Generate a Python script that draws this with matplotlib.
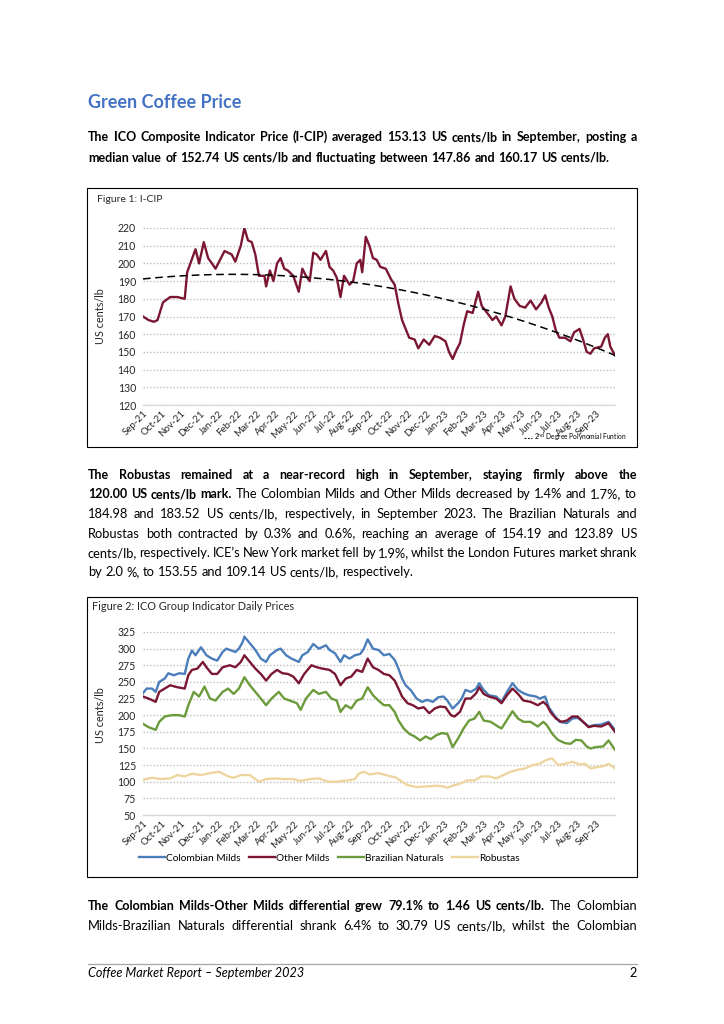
"""
Coffee Market Report page 2 - Green Coffee Price
Recreates the page with the I-CIP chart and the ICO group indicator chart
"""

import numpy as np
import matplotlib
matplotlib.use('Agg')
import matplotlib.pyplot as plt
from matplotlib.patches import Rectangle
from matplotlib.lines import Line2D

W, H = 724, 1024
FONT = 'Lato'
plt.rcParams['font.family'] = [FONT, 'DejaVu Sans']

# month labels (one per month start, x is counted in months from 1 Sep 2021)
months = ['Sep-21', 'Oct-21', 'Nov-21', 'Dec-21', 'Jan-22', 'Feb-22', 'Mar-22', 'Apr-22',
          'May-22', 'Jun-22', 'Jul-22', 'Aug-22', 'Sep-22', 'Oct-22', 'Nov-22', 'Dec-22',
          'Jan-23', 'Feb-23', 'Mar-23', 'Apr-23', 'May-23', 'Jun-23', 'Jul-23', 'Aug-23', 'Sep-23']

# Figure 1: I-CIP (US cents/lb)
icip_x = [0.00, 0.29, 0.58, 0.77, 1.06, 1.44, 1.82, 2.21, 2.34, 2.78, 2.97, 3.22, 3.45, 3.65, 3.84,
          4.32, 4.70, 4.89, 5.18, 5.37, 5.56, 5.76, 5.95, 6.14, 6.43, 6.52, 6.72, 6.91, 7.10, 7.29,
          7.48, 7.67, 7.96, 8.25, 8.44, 8.63, 8.83, 9.02, 9.21, 9.40, 9.69, 9.88, 10.07, 10.26, 10.46,
          10.65, 10.94, 11.13, 11.32, 11.51, 11.61, 11.80, 11.99, 12.18, 12.38, 12.57, 12.86, 13.14,
          13.33, 13.53, 13.72, 13.91, 14.10, 14.39, 14.58, 14.87, 15.16, 15.45, 15.73, 16.02, 16.21,
          16.40, 16.60, 16.79, 16.98, 17.17, 17.46, 17.75, 17.94, 18.23, 18.51, 18.71, 18.99, 19.19,
          19.47, 19.67, 19.95, 20.24, 20.53, 20.82, 21.11, 21.30, 21.49, 21.68, 21.87, 22.06, 22.35,
          22.64, 22.83, 23.12, 23.31, 23.50, 23.70, 23.89, 24.27, 24.46, 24.62, 24.75, 25.00]
icip = [170, 168, 167, 168, 178, 181, 181, 180, 195, 208, 200, 212, 203, 200, 197,
        207, 205, 201, 210, 220, 213, 212, 205, 193, 193, 187, 196, 190, 200, 203,
        197, 196, 193, 184, 197, 193, 190, 206, 205, 202, 207, 198, 196, 192, 181,
        193, 188, 190, 200, 202, 195, 215, 210, 203, 202, 198, 197, 191,
        188, 177, 168, 163, 158, 157, 152, 157, 154, 159, 158, 156, 150,
        146, 151, 155, 165, 173, 172, 184, 176, 172, 168, 170, 165, 170,
        187, 180, 176, 175, 179, 174, 178, 182, 175, 170, 162, 158, 158,
        156, 161, 163, 157, 150, 149, 152, 153, 158, 160, 153, 148]

# Figure 2: ICO group indicators (US cents/lb)
colombian_x = [0.00, 0.19, 0.48, 0.67, 0.86, 1.15, 1.34, 1.63, 1.92, 2.21, 2.40, 2.59, 2.78, 3.07,
               3.36, 3.65, 3.93, 4.22, 4.41, 4.70, 4.89, 5.08, 5.28, 5.37, 5.66, 5.95, 6.24, 6.52,
               6.72, 7.10, 7.29, 7.58, 7.87, 8.25, 8.44, 8.73, 9.02, 9.31, 9.69, 9.88, 10.17, 10.46,
               10.65, 10.94, 11.22, 11.51, 11.70, 11.90, 12.18, 12.47, 12.76, 13.05, 13.33, 13.53,
               13.72, 13.91, 14.20, 14.49, 14.77, 15.06, 15.35, 15.64, 15.92, 16.12, 16.40, 16.69,
               16.88, 17.08, 17.36, 17.65, 17.81, 18.04, 18.32, 18.71, 18.99, 19.28, 19.57, 19.86,
               20.15, 20.43, 20.82, 21.01, 21.30, 21.49, 21.78, 22.06, 22.45, 22.74, 23.02, 23.31,
               23.60, 23.89, 24.27, 24.66, 25.00]
colombian = [233, 240, 240, 235, 250, 255, 263, 260, 263, 262, 285, 297, 290, 302,
             290, 285, 282, 295, 300, 297, 295, 300, 310, 318, 308, 298, 285, 280,
             290, 298, 300, 290, 285, 280, 290, 295, 307, 300, 305, 298, 293, 280,
             290, 285, 290, 292, 300, 314, 300, 298, 290, 292, 283, 270,
             255, 245, 237, 225, 220, 223, 220, 227, 228, 222, 210, 218,
             225, 238, 235, 240, 248, 238, 230, 228, 220, 235, 248, 238,
             233, 230, 228, 225, 228, 212, 200, 190, 188, 195, 196, 190,
             183, 185, 186, 190, 178]

other_x = [0.00, 0.38, 0.67, 0.86, 1.15, 1.44, 1.82, 2.21, 2.40, 2.59, 2.88, 3.17, 3.36, 3.65,
           3.93, 4.22, 4.60, 4.89, 5.18, 5.37, 5.66, 5.95, 6.24, 6.52, 6.81, 7.10, 7.39, 7.67,
           7.96, 8.25, 8.54, 8.92, 9.21, 9.50, 9.88, 10.17, 10.46, 10.74, 11.03, 11.32, 11.61,
           11.90, 12.18, 12.47, 12.76, 13.05, 13.33, 13.53, 13.72, 14.01, 14.29, 14.58, 14.87,
           15.16, 15.45, 15.73, 16.02, 16.31, 16.50, 16.79, 17.08, 17.36, 17.65, 17.81, 18.04,
           18.32, 18.71, 18.99, 19.28, 19.57, 19.86, 20.15, 20.53, 20.91, 21.20, 21.39, 21.58,
           21.87, 22.16, 22.45, 22.74, 23.02, 23.31, 23.60, 23.89, 24.27, 24.66, 25.00]
other = [228, 224, 220, 235, 240, 245, 242, 240, 260, 268, 270, 280, 272, 262,
         262, 272, 275, 272, 280, 290, 280, 270, 262, 252, 262, 268, 263, 262,
         258, 248, 262, 275, 272, 270, 268, 262, 245, 255, 258, 268, 265,
         285, 272, 268, 262, 260, 252, 240, 228, 218, 215, 210, 212,
         203, 210, 213, 212, 200, 198, 205, 225, 225, 233, 242, 232,
         228, 225, 218, 230, 240, 232, 222, 220, 215, 220, 215, 205,
         195, 190, 192, 198, 198, 190, 182, 184, 183, 188, 175]

brazil_x = [0.00, 0.29, 0.67, 0.86, 1.15, 1.53, 1.92, 2.21, 2.40, 2.69, 2.97, 3.26, 3.55, 3.84,
            4.22, 4.51, 4.80, 5.08, 5.37, 5.66, 5.95, 6.24, 6.52, 6.81, 7.19, 7.48, 7.77, 8.15,
            8.35, 8.63, 9.02, 9.31, 9.69, 9.98, 10.26, 10.46, 10.74, 11.03, 11.32, 11.61, 11.90,
            12.18, 12.47, 12.76, 13.05, 13.33, 13.53, 13.81, 14.10, 14.39, 14.68, 14.97, 15.25,
            15.54, 15.83, 16.12, 16.40, 16.69, 16.98, 17.27, 17.56, 17.81, 18.04, 18.42, 18.80,
            18.99, 19.28, 19.57, 19.86, 20.15, 20.53, 20.91, 21.20, 21.39, 21.68, 21.97, 22.35,
            22.64, 22.93, 23.22, 23.50, 23.70, 23.98, 24.37, 24.66, 25.00]
brazil = [187, 182, 178, 190, 198, 200, 200, 198, 215, 235, 228, 243, 225, 222,
          235, 240, 232, 240, 257, 245, 235, 225, 215, 225, 235, 225, 222, 218,
          208, 225, 238, 232, 235, 225, 222, 205, 215, 210, 222, 225, 242,
          230, 222, 215, 215, 205, 192, 180, 172, 168, 162, 168, 164,
          170, 173, 172, 152, 165, 180, 192, 195, 205, 192, 190, 183,
          180, 193, 206, 195, 190, 190, 183, 190, 185, 172, 163, 158,
          157, 163, 162, 153, 150, 152, 153, 162, 148]

robusta_x = [0.00, 0.48, 0.96, 1.44, 1.82, 2.21, 2.59, 3.07, 3.55, 4.03, 4.51, 4.80, 5.18, 5.66,
             5.95, 6.14, 6.52, 7.00, 7.48, 7.96, 8.35, 8.83, 9.31, 9.79, 10.26, 10.84, 11.22,
             11.42, 11.70, 11.99, 12.47, 12.86, 13.14, 13.43, 13.72, 14.01, 14.49, 15.06, 15.54,
             15.92, 16.12, 16.40, 16.79, 17.17, 17.56, 17.94, 18.32, 18.71, 19.09, 19.47, 19.86,
             20.24, 20.63, 21.01, 21.39, 21.68, 21.97, 22.35, 22.74, 23.12, 23.41, 23.70, 24.08,
             24.46, 24.66, 25.00]
robusta = [103, 106, 104, 105, 110, 108, 112, 110, 113, 115, 108, 106, 110, 110,
           104, 100, 104, 105, 104, 104, 101, 104, 105, 100, 100, 102, 104,
           112, 115, 111, 113, 110, 108, 106, 100, 95, 92, 93, 94,
           93, 91, 94, 97, 102, 102, 108, 108, 105, 110, 115, 118,
           120, 125, 127, 133, 135, 125, 127, 130, 126, 127, 120, 122,
           124, 127, 120]

group_names = ['Colombian Milds', 'Other Milds', 'Brazilian Naturals', 'Robustas']
group_colors = ['#4A7EBB', '#7B1733', '#6B9B3A', '#EDD5A0']

# page text: lines of (text, weight) runs
par1 = [
    [('The ICO Composite Indicator Price (I-CIP) averaged 153.13 US cents/lb in September, posting a', 'bold')],
    [('median value of 152.74 US cents/lb and fluctuating between 147.86 and 160.17 US cents/lb.', 'bold')],
]
par2 = [
    [('The Robustas remained at a near-record high in September, staying firmly above the', 'bold')],
    [('120.00 US cents/lb mark.', 'bold'),
     ('The Colombian Milds and Other Milds decreased by 1.4% and 1.7%, to', 'normal')],
    [('184.98 and 183.52 US cents/lb, respectively, in September 2023. The Brazilian Naturals and', 'normal')],
    [('Robustas both contracted by 0.3% and 0.6%, reaching an average of 154.19 and 123.89 US', 'normal')],
    [('cents/lb, respectively. ICE\u2019s New York market fell by 1.9%, whilst the London Futures market shrank', 'normal')],
    [('by 2.0 %, to 153.55 and 109.14 US cents/lb, respectively.', 'normal')],
]
par3 = [
    [('The Colombian Milds-Other Milds differential grew 79.1% to 1.46 US cents/lb.', 'bold'),
     ('The Colombian', 'normal')],
    [('Milds-Brazilian Naturals differential shrank 6.4% to 30.79 US cents/lb, whilst the Colombian', 'normal')],
]

SIZES = {'bold': 9.0, 'normal': 9.3}
LEFT, RIGHT = 88, 637


def fx(px):
    return px / W


def fy(py):
    return 1 - py / H


def draw_paragraph(fig, lines, y_base, step, justify_last=False):
    """Draw lines word by word so that they are justified between LEFT and RIGHT"""
    r = fig.canvas.get_renderer()
    for i, segs in enumerate(lines):
        words = [(w, wt) for txt, wt in segs for w in txt.split()]
        widths = []
        for w, wt in words:
            t = fig.text(0, 0, w, fontsize=SIZES[wt], fontweight=wt)
            widths.append(t.get_window_extent(r).width)
            t.remove()
        last = (i == len(lines) - 1) and not justify_last
        if last or len(words) < 2:
            gap = 9.2 * 100 / 72 * 0.26
        else:
            gap = (RIGHT - LEFT - sum(widths)) / (len(words) - 1)
        x = LEFT
        y = y_base + i * step
        for (w, wt), wd in zip(words, widths):
            fig.text(fx(x), fy(y), w, fontsize=SIZES[wt], fontweight=wt, color='black',
                     ha='left', va='baseline')
            x += wd + gap


def style_axes(ax, ylim, yticks):
    ax.set_xlim(0, 25)
    ax.set_ylim(*ylim)
    ax.set_yticks(yticks)
    ax.set_xticks(range(len(months)))
    ax.set_xticklabels(months, rotation=45, ha='right', va='top', rotation_mode='anchor')
    ax.grid(axis='y', linestyle=(0, (1, 1.4)), color='#BFBFBF', linewidth=1.0)
    ax.set_axisbelow(True)
    for side in ['top', 'right', 'left']:
        ax.spines[side].set_visible(False)
    ax.spines['bottom'].set_color('#D9D9D9')
    ax.spines['bottom'].set_linewidth(1.0)
    ax.tick_params(axis='both', length=0, labelcolor='#262626')
    ax.tick_params(axis='x', pad=3, labelsize=7)
    ax.tick_params(axis='y', pad=5, labelsize=7.6)


def main():
    fig = plt.figure(figsize=(W / 100, H / 100), dpi=100)
    fig.patch.set_facecolor('white')

    # title and first paragraph
    fig.text(fx(LEFT), fy(108), 'Green Coffee Price', fontsize=13, fontweight='bold',
             color='#4472C4', ha='left', va='baseline')
    draw_paragraph(fig, par1, 141, 20.5)

    # Figure 1 box and chart
    fig.add_artist(Rectangle((fx(87), fy(447)), (637 - 87) / W, (447 - 188) / H,
                             transform=fig.transFigure, fill=False, edgecolor='black', linewidth=0.8))
    fig.text(fx(97), fy(200), 'Figure 1: I-CIP', fontsize=7.5, ha='left', va='center', color='#262626')
    ax1 = fig.add_axes([fx(143), fy(405), (615 - 143) / W, (405 - 228) / H])
    ax1.plot(icip_x, icip, color='#7B1733', linewidth=1.7)
    coef = np.polyfit(icip_x, icip, 2)
    xs = np.linspace(0, 25, 200)
    ax1.plot(xs, np.polyval(coef, xs), color='black', linestyle=(0, (5, 3)), linewidth=1.1)
    style_axes(ax1, (120, 220), range(120, 221, 10))
    fig.text(fx(100), fy(316), 'US cents/lb', rotation=90, fontsize=7.8, ha='center', va='center',
             color='#262626')
    trend = Line2D([], [], color='black', linestyle=(0, (2, 1.5)), linewidth=0.7)
    fig.legend([trend], [r'2$^{\mathrm{nd}}$ Degree Polynomial Funtion'], loc='center right',
               bbox_to_anchor=(fx(630), fy(438)), frameon=False, fontsize=4.8,
               handlelength=1.2, handletextpad=0.3, borderpad=0)

    # second paragraph
    draw_paragraph(fig, par2, 479, 19.5)

    # Figure 2 box and chart
    fig.add_artist(Rectangle((fx(87), fy(877)), (637 - 87) / W, (877 - 597) / H,
                             transform=fig.transFigure, fill=False, edgecolor='black', linewidth=0.8))
    fig.text(fx(92), fy(607), 'Figure 2: ICO Group Indicator Daily Prices', fontsize=7.8,
             ha='left', va='center', color='#262626')
    ax2 = fig.add_axes([fx(143), fy(815), (615 - 143) / W, (815 - 632) / H])
    series = [(colombian_x, colombian), (other_x, other), (brazil_x, brazil), (robusta_x, robusta)]
    handles = []
    for (xv, yv), name, col in zip(series, group_names, group_colors):
        ln, = ax2.plot(xv, yv, color=col, linewidth=1.7, label=name)
        handles.append(ln)
    style_axes(ax2, (50, 325), range(50, 326, 25))
    fig.text(fx(100), fy(715), 'US cents/lb', rotation=90, fontsize=7.8, ha='center', va='center',
             color='#262626')
    fig.legend(handles, group_names, loc='center left', bbox_to_anchor=(fx(134), fy(858)),
               ncol=4, frameon=False, fontsize=7.3, handlelength=2.6, handletextpad=0.1,
               columnspacing=0.8, borderpad=0)

    # third paragraph
    draw_paragraph(fig, par3, 910, 20, justify_last=True)

    # footer
    fig.add_artist(Line2D([fx(88), fx(637)], [fy(964), fy(964)], transform=fig.transFigure,
                          color='#A6A6A6', linewidth=0.9))
    fig.text(fx(88), fy(977), 'Coffee Market Report \u2013 September 2023', fontsize=9.1,
             style='italic', ha='left', va='baseline')
    fig.text(fx(637), fy(977), '2', fontsize=9.1, ha='right', va='baseline')

    fig.savefig('out.png', dpi=100)
    plt.close(fig)


if __name__ == "__main__":
    main()
